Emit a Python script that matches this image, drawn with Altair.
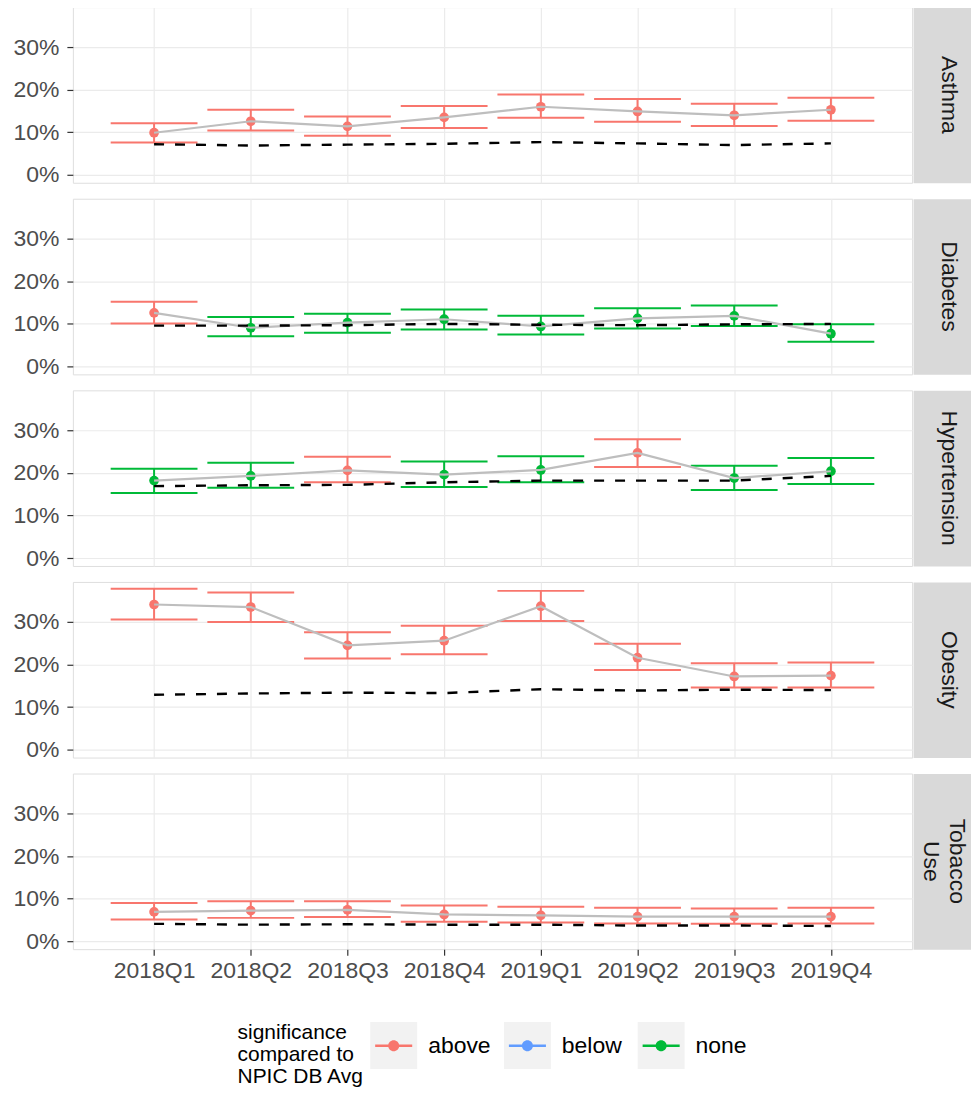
import altair as alt
import pandas as pd

quarters = ["2018Q1", "2018Q2", "2018Q3", "2018Q4", "2019Q1", "2019Q2", "2019Q3", "2019Q4"]
measures = ["Asthma", "Diabetes", "Hypertension", "Obesity", "Tobacco Use"]
strip_labels = [["Asthma"], ["Diabetes"], ["Hypertension"], ["Obesity"], ["Tobacco", "Use"]]

# rates (%) per quarter
asthma_rate = [9.9, 12.6, 11.4, 13.5, 16.0, 14.9, 14.0, 15.3]
asthma_lower = [7.6, 10.4, 9.2, 11.0, 13.4, 12.5, 11.5, 12.7]
asthma_upper = [12.1, 15.3, 13.7, 16.2, 18.9, 17.8, 16.7, 18.1]
asthma_bench = [7.2, 6.9, 7.1, 7.3, 7.7, 7.4, 7.0, 7.4]
asthma_sig = ["above"] * 8

diabetes_rate = [12.6, 9.1, 10.3, 11.1, 9.4, 11.3, 11.9, 7.7]
diabetes_lower = [10.1, 7.1, 7.9, 8.7, 7.5, 8.9, 9.5, 5.8]
diabetes_upper = [15.2, 11.6, 12.4, 13.4, 11.9, 13.7, 14.3, 9.9]
diabetes_bench = [9.6, 9.6, 9.7, 10.0, 9.8, 9.7, 9.9, 10.0]
diabetes_sig = ["above", "none", "none", "none", "none", "none", "none", "none"]

hyper_rate = [18.2, 19.3, 20.6, 19.6, 20.7, 24.7, 18.8, 20.4]
hyper_lower = [15.3, 16.5, 17.8, 16.7, 17.8, 21.4, 16.0, 17.4]
hyper_upper = [21.0, 22.4, 23.8, 22.7, 23.9, 27.9, 21.7, 23.5]
hyper_bench = [16.9, 17.1, 17.2, 17.8, 18.2, 18.2, 18.2, 19.3]
hyper_sig = ["none", "none", "above", "none", "none", "above", "none", "none"]

obesity_rate = [34.1, 33.5, 24.5, 25.6, 33.7, 21.6, 17.2, 17.4]
obesity_lower = [30.6, 30.0, 21.4, 22.4, 30.2, 18.7, 14.6, 14.6]
obesity_upper = [37.8, 36.9, 27.6, 29.1, 37.3, 24.9, 20.3, 20.5]
obesity_bench = [12.9, 13.2, 13.4, 13.3, 14.2, 13.9, 14.1, 14.0]
obesity_sig = ["above"] * 8

tobacco_rate = [6.9, 7.2, 7.4, 6.3, 6.1, 5.8, 5.8, 5.8]
tobacco_lower = [5.1, 5.5, 5.7, 4.6, 4.4, 4.2, 4.1, 4.2]
tobacco_upper = [9.0, 9.4, 9.4, 8.4, 8.1, 7.9, 7.7, 7.9]
tobacco_bench = [4.1, 3.9, 4.0, 3.9, 3.9, 3.7, 3.7, 3.6]
tobacco_sig = ["above"] * 8

sig_levels = ["above", "below", "none"]
sig_colors = ["#F8766D", "#619CFF", "#00BA38"]
key_levels = ["a", "b", "c"]
legend_title = ["significance", "compared to", "NPIC DB Avg"]

series = {
    "Asthma": (asthma_rate, asthma_lower, asthma_upper, asthma_bench, asthma_sig),
    "Diabetes": (diabetes_rate, diabetes_lower, diabetes_upper, diabetes_bench, diabetes_sig),
    "Hypertension": (hyper_rate, hyper_lower, hyper_upper, hyper_bench, hyper_sig),
    "Obesity": (obesity_rate, obesity_lower, obesity_upper, obesity_bench, obesity_sig),
    "Tobacco Use": (tobacco_rate, tobacco_lower, tobacco_upper, tobacco_bench, tobacco_sig),
}

records = []
for m in measures:
    r, lo, up, b, s = series[m]
    for i, q in enumerate(quarters):
        records.append({"measure": m, "quarter": q, "rate": r[i], "lower": lo[i],
                        "upper": up[i], "bench": b[i], "sig": s[i]})
df = pd.DataFrame(records)

FONT = "Liberation Sans"
PW, PH = 841, 176
KEY = 2209  # 47px key square
STRIP_LH = 26
sym_path = ("M-0.79,-0.055H0.79V0.055H-0.79Z"
            "M0.235,0A0.235,0.235,0,1,1,-0.235,0A0.235,0.235,0,1,1,0.235,0Z")
label_map = "{'a':'above','b':'below','c':'none'}[datum.label]"

legend_common = dict(orient="none", legendX=165, legendY=1017, direction="horizontal",
                     title=legend_title, titleOrient="left", titleAnchor="start",
                     titleBaseline="top", titleFontSize=21, titleLineHeight=22,
                     titleFontWeight="normal", titleFont=FONT, titlePadding=6,
                     labelFontSize=23, labelFont=FONT, labelOffset=11, columnPadding=13,
                     gridAlign="all", padding=0, symbolSize=KEY, symbolStrokeWidth=0)

color_legend = alt.Legend(symbolType=sym_path, titleColor="black", labelColor="black",
                          zindex=1, symbolOpacity=1, **legend_common)
dummy_legend = alt.Legend(symbolType="square", titleColor="transparent",
                          labelColor="transparent", labelExpr=label_map, zindex=0,
                          symbolFillColor="#f2f2f2", symbolOpacity=1, **legend_common)


def panel(m, last, with_dummy):
    base = alt.Chart(df).transform_filter(alt.datum.measure == m)
    xaxis = alt.Axis(title=None, labels=last, ticks=last, domain=False, grid=True,
                     gridColor="#ebebeb", gridWidth=1.2, labelFontSize=23, labelFont=FONT,
                     labelColor="#4d4d4d", labelPadding=4, tickSize=6, tickColor="#333333",
                     tickWidth=1.2, labelAngle=0, labelOverlap=False)
    x = alt.X("quarter:N", scale=alt.Scale(type="point", domain=quarters, padding=0.84),
              axis=xaxis)
    yscale = alt.Scale(domain=[-1.85, 39.4], nice=False, zero=False)
    yaxis = alt.Axis(title=None, values=[0, 10, 20, 30], labelExpr="datum.value + '%'",
                     domain=False, grid=True, gridColor="#ebebeb", gridWidth=1.2,
                     labelFontSize=23, labelFont=FONT, labelColor="#4d4d4d", tickSize=6,
                     tickColor="#333333", tickWidth=1.2, labelPadding=8)
    color = alt.Color("sig:N", scale=alt.Scale(domain=sig_levels, range=sig_colors),
                      legend=color_legend)
    pts = base.mark_circle(size=95, opacity=1).encode(
        x=x, y=alt.Y("rate:Q", scale=yscale, axis=yaxis), color=color)
    bars = base.mark_rule(strokeWidth=2).encode(
        x=x, y=alt.Y("lower:Q", scale=yscale, axis=yaxis), y2="upper:Q", color=color)
    cap_hi = base.mark_tick(size=87, thickness=2, orient="horizontal", opacity=1).encode(
        x=x, y=alt.Y("upper:Q", scale=yscale, axis=yaxis), color=color)
    cap_lo = base.mark_tick(size=87, thickness=2, orient="horizontal", opacity=1).encode(
        x=x, y=alt.Y("lower:Q", scale=yscale, axis=yaxis), color=color)
    line = base.mark_line(color="#bebebe", strokeWidth=2.2).encode(
        x=x, y=alt.Y("rate:Q", scale=yscale, axis=yaxis))
    bench = base.mark_line(color="black", strokeWidth=2.4, strokeDash=[10, 11]).encode(
        x=x, y=alt.Y("bench:Q", scale=yscale, axis=yaxis))
    layers = [pts, bars, cap_hi, cap_lo, line, bench]
    if with_dummy:
        dummy = alt.Chart(df).transform_filter("false").mark_point(
            color="#f2f2f2", opacity=1, filled=True).encode(
            x=x, y=alt.Y("rate:Q", scale=yscale, axis=yaxis),
            shape=alt.Shape("key:N", scale=alt.Scale(domain=key_levels,
                                                     range=["square", "square", "square"]),
                            legend=dummy_legend))
        layers.append(dummy)
    return alt.layer(*layers).properties(width=PW, height=PH)


def strip(lines):
    # centre the (rotated) block of lines inside the strip, keeping it inside the edge
    shift = -3 if len(lines) == 1 else -11.5
    return alt.Chart(pd.DataFrame({"label": [" ".join(lines)]})).mark_text(
        text=lines, angle=90, fontSize=23, font=FONT, color="#1a1a1a", lineHeight=STRIP_LH,
        align="center", baseline="middle", dy=shift).properties(
        width=65, height=PH, view=alt.ViewBackground(fill="#d9d9d9", stroke="transparent"))


cells = []
for i, m in enumerate(measures):
    last = i == len(measures) - 1
    cells.append(panel(m, last, last))
    cells.append(strip(strip_labels[i]))

chart = alt.concat(*cells, columns=2, spacing={"row": 16, "column": 1},
                   bounds="flush", align="each").properties(
    padding={"left": 4, "top": -3, "right": -8, "bottom": 5},
    background="white",
).configure(font=FONT).configure_view(stroke="#dedede", strokeWidth=1)

chart.save("out.html", embed_options={"renderer": "svg", "actions": False})
